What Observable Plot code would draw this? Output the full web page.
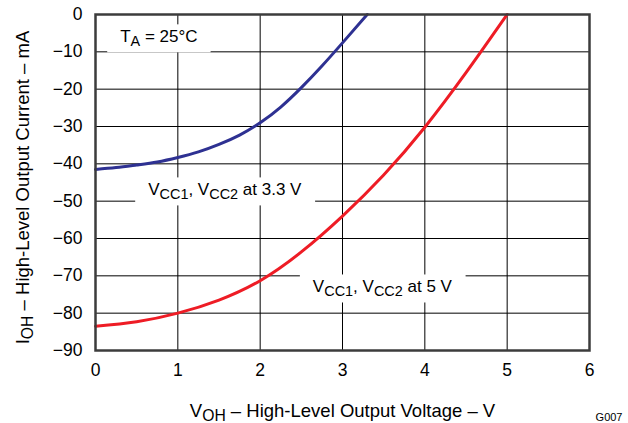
<!DOCTYPE html>
<html>
<head>
<meta charset="utf-8">
<script src="https://cdn.jsdelivr.net/npm/d3@7"></script>
<script src="https://cdn.jsdelivr.net/npm/@observablehq/plot@0.6"></script>
<style>
  html, body { margin: 0; padding: 0; background: #fff; }
  #chart { width: 628px; height: 423px; }
</style>
</head>
<body>
<div id="chart"></div>
<script>
// ---- data ----
const vBlue = [0, 0.25, 0.5, 0.75, 1, 1.25, 1.5, 1.75, 2, 2.25, 2.5, 2.75, 3, 3.3];
const iBlue = [-41.5, -41.0, -40.3, -39.5, -38.3, -36.8, -34.8, -32.3, -29, -24.8, -19.6, -13.8, -7.6, 0];
const vRed = [0, 0.5, 1, 1.5, 2, 2.5, 3, 3.5, 4, 4.5, 5];
const iRed = [-83.5, -82.3, -80, -76.5, -71.3, -63.6, -54, -43.0, -30.2, -15.6, 0];
const xTicks = [0, 1, 2, 3, 4, 5, 6];
const yTicks = [0, -10, -20, -30, -40, -50, -60, -70, -80, -90];
const xTitle = "V_{OH} – High-Level Output Voltage – V";
const yTitle = "I_{OH} – High-Level Output Current – mA";
const noteText = "G007";
const annotations = [
  {x: 0.30, y: -6.0, text: "T_{A} = 25°C"},
  {x: 0.64, y: -47.0, text: "V_{CC1}, V_{CC2} at 3.3 V"},
  {x: 2.64, y: -73.0, text: "V_{CC1}, V_{CC2} at 5 V"}
];

const blue = vBlue.map((v, i) => ({v, i: iBlue[i]}));
const red = vRed.map((v, i) => ({v, i: iRed[i]}));

const plot = Plot.plot({
  width: 628,
  height: 423,
  marginLeft: 95,
  marginRight: 39,
  marginTop: 14,
  marginBottom: 73,
  style: {fontFamily: "'Liberation Sans', Arial, sans-serif", fontSize: "17px", color: "#000", background: "#fff"},
  x: {domain: [0, 6]},
  y: {domain: [-90, 0]},
  marks: [
    Plot.gridX(xTicks, {stroke: "#000", strokeOpacity: 1, strokeWidth: 1}),
    Plot.gridY(yTicks, {stroke: "#000", strokeOpacity: 1, strokeWidth: 1}),
    Plot.line(blue, {x: "v", y: "i", stroke: "#2e3192", strokeWidth: 3, curve: "natural"}),
    Plot.line(red, {x: "v", y: "i", stroke: "#ee1c25", strokeWidth: 3, curve: "natural"}),
    Plot.axisX({ticks: xTicks, tickSize: 0, tickPadding: 13, label: null, fontSize: 17.5, tickFormat: "d"}),
    Plot.axisY({ticks: yTicks, tickSize: 0, tickPadding: 13, label: null, fontSize: 17.5, tickFormat: "d"}),
    Plot.text(annotations, {x: "x", y: "y", text: "text", textAnchor: "start", lineAnchor: "middle", fontSize: 17, fill: "#000"}),
    Plot.text([xTitle], {text: d => d, frameAnchor: "bottom", textAnchor: "middle", lineAnchor: "middle", dy: 61, fontSize: 18.5, fill: "#000"}),
    Plot.text([yTitle], {text: d => d, frameAnchor: "left", textAnchor: "middle", lineAnchor: "middle", rotate: -90, dx: -72, dy: 5, fontSize: 18.5, fill: "#000"}),
    Plot.text([noteText], {text: d => d, frameAnchor: "bottom-right", textAnchor: "end", lineAnchor: "middle", dx: 33, dy: 67, fontSize: 11, fill: "#000"}),
    Plot.frame({stroke: "#3c3c3c", strokeWidth: 2.5})
  ]
});

document.getElementById("chart").appendChild(plot);

// subscripts: "_{...}" -> lowered, smaller tspans
const NS = "http://www.w3.org/2000/svg";
const annTexts = new Set(annotations.map(a => a.text));
plot.querySelectorAll("text").forEach(t => {
  const s = t.textContent;
  if (!s.includes("_{")) return;
  const isAnn = annTexts.has(s);
  const re = /_\{([^}]*)\}/g;
  let last = 0, m;
  const parts = [];
  while ((m = re.exec(s))) {
    parts.push([s.slice(last, m.index), false]);
    parts.push([m[1], true]);
    last = re.lastIndex;
  }
  parts.push([s.slice(last), false]);
  t.textContent = "";
  let down = false;
  for (const [str, sub] of parts) {
    if (!str) continue;
    const ts = document.createElementNS(NS, "tspan");
    ts.textContent = str;
    if (sub) {
      ts.setAttribute("font-size", "85%");
      if (!down) { ts.setAttribute("dy", "4"); down = true; }
    } else if (down) {
      ts.setAttribute("dy", "-4");
      down = false;
    }
    t.appendChild(ts);
  }
  if (isAnn) {
    const b = t.getBBox();
    const r = document.createElementNS(NS, "rect");
    r.setAttribute("x", b.x - 13);
    r.setAttribute("y", b.y - 3);
    r.setAttribute("width", b.width + 26);
    r.setAttribute("height", b.height + 6);
    r.setAttribute("fill", "#fff");
    const tr = t.getAttribute("transform");
    if (tr) r.setAttribute("transform", tr);
    t.parentNode.insertBefore(r, t);
  }
});
</script>
</body>
</html>
